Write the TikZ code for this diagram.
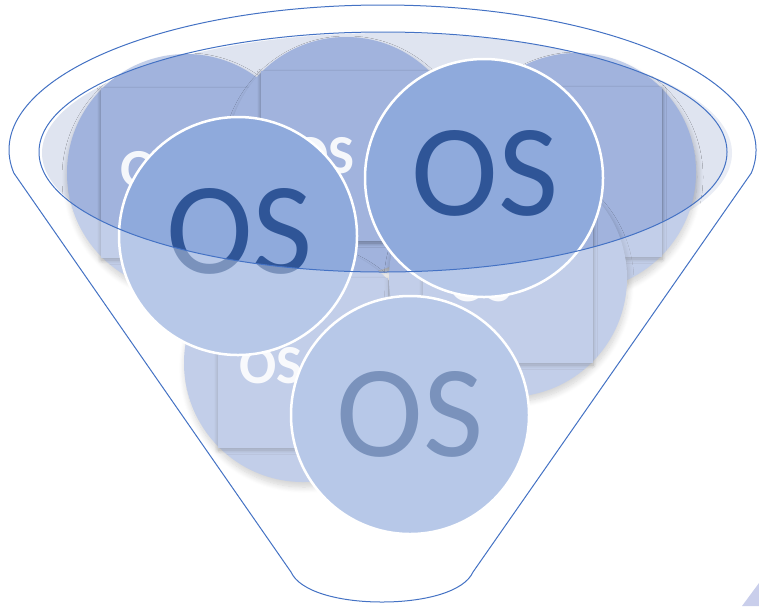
\documentclass[tikz,border=0pt]{standalone}
\usepackage{fontspec}
\newfontfamily\osfont{Carlito}
\usetikzlibrary{shadows.blur}
\definecolor{funnelblue}{HTML}{4472C4}
\definecolor{backfill}{HTML}{A1B3DD}
\definecolor{frontfill}{HTML}{8FAADC}
\definecolor{fronttext}{HTML}{2F5597}
\definecolor{mouthfill}{HTML}{DFE4F0}
\definecolor{cornerfill}{HTML}{C9CEEB}
\tikzset{
  backcircle/.style={fill=backfill, blur shadow={shadow xshift=1pt, shadow yshift=-5pt, shadow blur radius=6pt, shadow blur steps=10, shadow opacity=28}},
  backsquare/.style={fill=backfill, blur shadow={shadow xshift=0pt, shadow yshift=-2pt, shadow blur radius=4pt, shadow blur steps=8, shadow opacity=35}},
  backtext/.style={inner sep=0pt, text=white, text opacity=0.9, font=\osfont\bfseries\fontsize{55}{55}\selectfont},
  frontcircle/.style={fill=frontfill, draw=white, line width=2.5pt},
  fronttextstyle/.style={inner sep=0pt, text=fronttext, font=\osfont\fontsize{131}{131}\selectfont},
  funnelline/.style={draw=funnelblue, line width=1pt},
}
\begin{document}
\begin{tikzpicture}[x=1pt,y=-1pt]
\useasboundingbox (0,0) rectangle (759,606);
% mouth fill
\fill[mouthfill] (387,153) ellipse [x radius=345, y radius=120];
% back circles
\fill[backcircle] (186,173) circle [radius=119];
\fill[backsquare] (101,88) rectangle (271,258);
\node[backtext] (t1) at (152,170) {OS};
\fill[backcircle] (346,156) circle [radius=119];
\fill[backsquare] (261,71) rectangle (431,241);
\node[backtext] (t2) at (323,156) {OS};
\fill[backcircle] (577,172) circle [radius=119];
\fill[backsquare] (492,87) rectangle (662,257);
\fill[backcircle] (303,363) circle [radius=119];
\fill[backsquare] (218,278) rectangle (388,448);
\node[backtext] (t4) at (271,366) {OS};
\fill[backcircle] (508,278) circle [radius=119];
\fill[backsquare] (423,193) rectangle (593,363);
\node[backtext] (t5) at (481,284) {OS};
% front circles
\path[frontcircle] (238,236) circle [radius=119];
\node[fronttextstyle] (f1) at (239.5,231.5) {OS};
\path[frontcircle] (484,178) circle [radius=119];
\node[fronttextstyle] (f2) at (485,173.5) {OS};
\path[frontcircle] (410,415) circle [radius=119];
\node[fronttextstyle] (f3) at (410,414) {OS};
% funnel body overlay
\fill[white, fill opacity=0.36, even odd rule]
  (13.8,173) arc [start angle=170.87, end angle=369.13, x radius=373.5, y radius=145]
  -- (473,572) .. controls (464,592) and (424,602) .. (382,602)
  .. controls (340,602) and (300,592) .. (291,572) -- cycle
  (383,152) ellipse [x radius=344, y radius=120];
% funnel outline
\path[funnelline]
  (13.8,173) arc [start angle=170.87, end angle=369.13, x radius=373.5, y radius=145]
  -- (473,572) .. controls (464,592) and (424,602) .. (382,602)
  .. controls (340,602) and (300,592) .. (291,572) -- cycle;
\path[funnelline] (383,152) ellipse [x radius=344, y radius=120];
% corner piece
\fill[cornerfill] (742,606) -- (759,583) -- (759,606) -- cycle;
\end{tikzpicture}
\end{document}
